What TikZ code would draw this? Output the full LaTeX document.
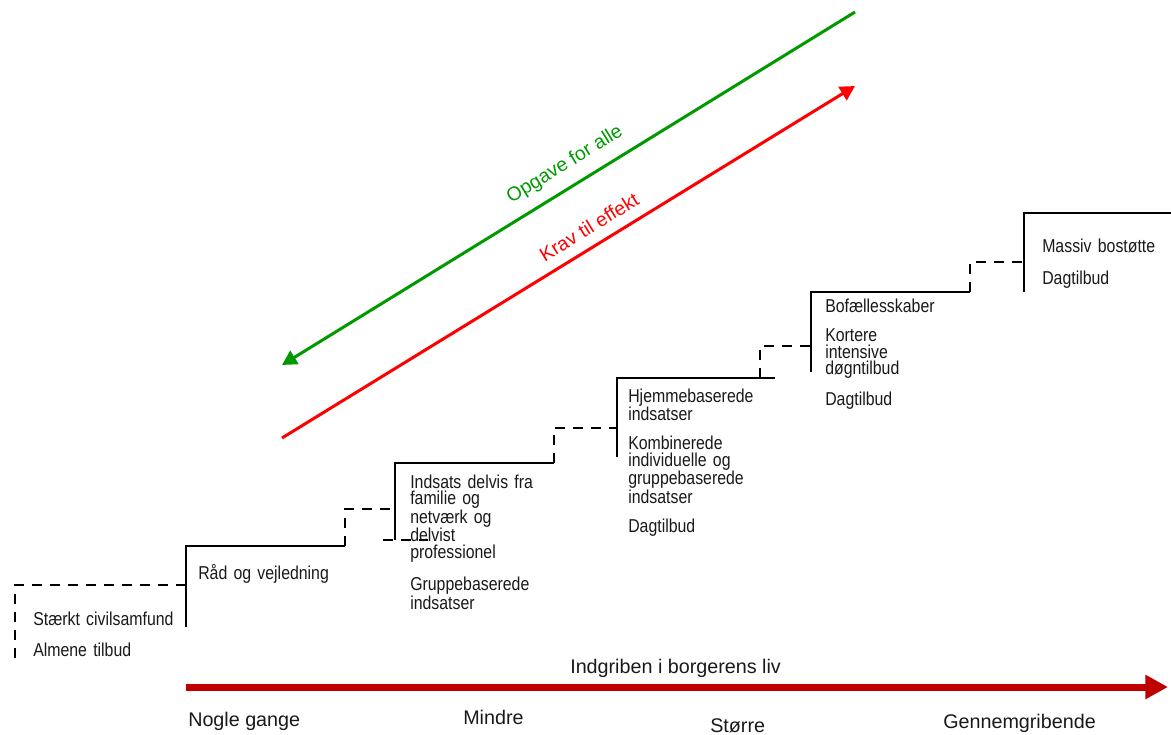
\documentclass[tikz,border=0pt]{standalone}
\usepackage{fontspec}
\setmainfont{Liberation Sans}
\newfontfamily\stepfont[FakeStretch=0.85]{Liberation Sans}
\usetikzlibrary{arrows.meta}
\definecolor{dgreen}{RGB}{0,153,0}
\definecolor{brightred}{RGB}{255,0,0}
\definecolor{darkred}{RGB}{192,0,0}
\definecolor{txt}{RGB}{25,25,25}
\begin{document}
\begin{tikzpicture}[x=0.75pt,y=-0.75pt,
  solidline/.style={line width=1.3pt, black},
  dashline/.style={line width=1.5pt, black, dash pattern=on 7.5pt off 6pt},
  steptext/.style={anchor=base west, inner sep=0pt, align=left, text width=115pt, text=txt,
                   font=\stepfont\fontsize{14}{12.3}\selectfont},
  axislabel/.style={anchor=base west, inner sep=0pt, text=txt, font=\fontsize{14.8}{17}\selectfont},
  diaglabel/.style={inner sep=0pt, rotate=31.6, font=\fontsize{14.6}{17}\selectfont},
]
\useasboundingbox (0,0) rectangle (1171,735);

% stairs
\draw[dashline] (15,658) -- (15,585) -- (186,585);
\draw[solidline] (186,627) -- (186,546) -- (345,546);
\draw[dashline] (345,546) -- (345,509) -- (395,509);
\draw[solidline] (395,540) -- (395,463) -- (554,463);
\draw[dashline] (383,540) -- (428,540);
\draw[dashline] (554,463) -- (554,428) -- (617,428);
\draw[solidline] (617,457) -- (617,378) -- (775,378);
\draw[dashline] (760,378) -- (760,346) -- (811,346);
\draw[solidline] (811,372) -- (811,292) -- (970,292);
\draw[dashline] (970,292) -- (970,262) -- (1024,262);
\draw[solidline] (1024,292) -- (1024,213) -- (1171,213);

% step texts
\node[steptext] (t0) at (33,625) {Stærkt civilsamfund\\[11pt]Almene tilbud};
\node[steptext] (t1) at (198,579) {Råd og vejledning};
\node[steptext] (t2) at (410,488) {Indsats delvis fra\\familie og\\netværk og\\delvist\\professionel\\[10pt]Gruppebaserede\\indsatser};
\node[steptext] (t3) at (628,402) {Hjemmebaserede\\indsatser\\[9.5pt]Kombinerede\\individuelle og\\gruppebaserede\\indsatser\\[9.5pt]Dagtilbud};
\node[steptext] (t4) at (825,312) {Bofællesskaber\\[10pt]Kortere\\intensive\\døgntilbud\\[9.5pt]Dagtilbud};
\node[steptext] (t5) at (1042,252) {Massiv bostøtte\\[12pt]Dagtilbud};

% diagonal arrows
\coordinate (g1) at (855,12);
\coordinate (g2) at (282,365);
\coordinate (r1) at (282,438);
\coordinate (r2) at (855,86);
\draw[dgreen, line width=2.25pt, -{Triangle[length=11pt,width=11.5pt]}] (g1) -- (g2);
\draw[brightred, line width=2.25pt, -{Triangle[length=11pt,width=11.5pt]}] (r1) -- (r2);
\node[diaglabel, text=dgreen] (lg) at (565,165) {Opgave for alle};
\node[diaglabel, text=brightred] (lr) at (589,227) {Krav til effekt};

% bottom axis
\coordinate (a1) at (186,687);
\coordinate (a2) at (1168,687);
\draw[darkred, line width=5.25pt, -{Triangle[length=17pt,width=17.25pt]}] (a1) -- (a2);
\node[axislabel] (ax) at (570,673) {Indgriben i borgerens liv};
\node[axislabel] (l1) at (188,726) {Nogle gange};
\node[axislabel] (l2) at (463,724) {Mindre};
\node[axislabel] (l3) at (710,732) {Større};
\node[axislabel] (l4) at (943,728) {Gennemgribende};
\end{tikzpicture}
\end{document}
